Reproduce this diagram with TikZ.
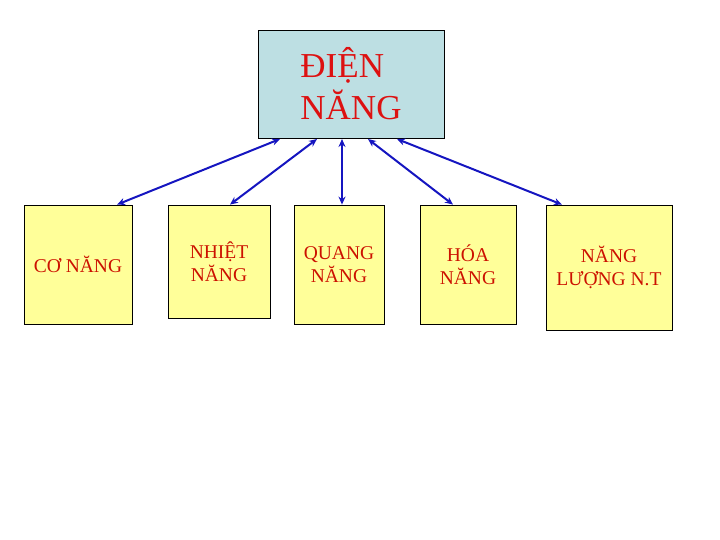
\documentclass[tikz,border=0pt]{standalone}
\usepackage{fontspec}
\setmainfont{Liberation Serif}
\usetikzlibrary{arrows.meta}
\definecolor{topfill}{HTML}{BDDFE3}
\definecolor{boxfill}{HTML}{FFFF99}
\definecolor{txtred}{HTML}{CC1100}
\definecolor{toptxt}{HTML}{DD1111}
\definecolor{arrblue}{HTML}{1515C0}
\tikzset{
  topbox/.style={draw=black, line width=0.8pt, fill=topfill, minimum width=186pt, minimum height=108pt, inner sep=0pt, text=toptxt, align=left, font=\fontsize{35}{42}\selectfont},
  leaf/.style={draw=black, line width=0.8pt, fill=boxfill, inner sep=0pt, text=txtred, align=center, font=\fontsize{19.5}{23}\selectfont},
  link/.style={draw=arrblue, line width=2pt, {Stealth[length=8pt,width=7pt]}-{Stealth[length=8pt,width=7pt]}}
}
\begin{document}
\begin{tikzpicture}[x=1pt,y=-1pt]
\useasboundingbox (0,0) rectangle (720,540);
\node[topbox] (top) at (351,84) {ĐIỆN\\NĂNG};
\node[leaf, minimum width=108pt, minimum height=119pt] (b1) at (78,264.5) {CƠ NĂNG};
\node[leaf, minimum width=102pt, minimum height=113pt] (b2) at (219,261.5) {NHIỆT\\NĂNG};
\node[leaf, minimum width=90pt, minimum height=119pt] (b3) at (339,264.5) {QUANG\\NĂNG};
\node[leaf, minimum width=96pt, minimum height=119pt] (b4) at (468,264.5) {HÓA\\NĂNG};
\node[leaf, minimum width=126pt, minimum height=125pt] (b5) at (609,267.5) {NĂNG\\LƯỢNG N.T};
\coordinate (t1) at (280,139);
\coordinate (t2) at (317,139);
\coordinate (t3) at (342,139);
\coordinate (t4) at (368,139);
\coordinate (t5) at (397,139);
\draw[link] (t1) -- (b1.north -| 117,0);
\draw[link] (t2) -- (b2.north -| 230,0);
\draw[link] (t3) -- (b3.north -| 342,0);
\draw[link] (t4) -- (b4.north -| 453,0);
\draw[link] (t5) -- (b5.north -| 562,0);
\end{tikzpicture}
\end{document}
